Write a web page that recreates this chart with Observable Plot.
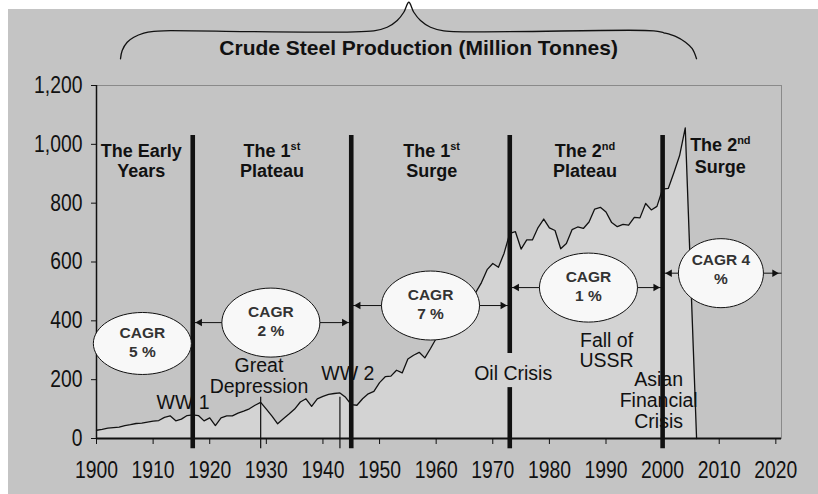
<!DOCTYPE html>
<html><head><meta charset="utf-8">
<script src="https://cdn.jsdelivr.net/npm/d3@7"></script>
<script src="https://cdn.jsdelivr.net/npm/@observablehq/plot@0.6"></script>
<style>
html,body{margin:0;padding:0;background:#fff;}
#wrap{position:relative;width:818px;height:494px;overflow:hidden;}
#bg{position:absolute;left:8px;top:9px;right:0;bottom:0;background:#c4c4c4;}
#chart{position:absolute;left:0;top:0;}
</style></head><body>
<div id="wrap"><div id="bg"></div><div id="chart"></div></div>
<script>
// ---- data ----
const years = [1900,1901,1902,1903,1904,1905,1906,1907,1908,1909,1910,1911,1912,1913,1914,1915,1916,1917,1918,1919,
1920,1921,1922,1923,1924,1925,1926,1927,1928,1929,1930,1931,1932,1933,1934,1935,1936,1937,1938,1939,
1940,1941,1942,1943,1944,1945,1946,1947,1948,1949,1950,1951,1952,1953,1954,1955,1956,1957,1958,1959,
1960,1961,1962,1963,1964,1965,1966,1967,1968,1969,1970,1971,1972,1973,1974,1975,1976,1977,1978,1979,
1980,1981,1982,1983,1984,1985,1986,1987,1988,1989,1990,1991,1992,1993,1994,1995,1996,1997,1998,1999,
2000,2001,2002,2003,2004,2006];
const production = [28,31,35,37,39,44,47,51,52,56,59,61,72,77,60,66,78,80,78,60,
70,44,70,77,77,86,93,101,113,123,100,76,50,67,83,100,124,135,109,135,
143,150,153,155,140,115,113,135,152,160,190,210,212,232,223,270,283,293,274,306,
340,351,360,387,434,456,475,497,530,574,595,582,630,697,703,644,675,675,717,746,
716,707,645,663,710,719,714,736,780,786,770,734,720,728,725,752,750,799,777,789,
848,850,904,962,1056,0];

const xTicks = [1900,1910,1920,1930,1940,1950,1960,1970,1980,1990,2000,2010,2020];
const yTicks = [0,200,400,600,800,1000,1200];

const titleText = ["Crude Steel Production (Million Tonnes)"];

const periodBounds = [1917, 1945, 1973, 2000];
const regionLine1 = ["The Early", "The 1st", "The 1st", "The 2nd", "The 2nd"];
const regionLine2 = ["Years", "Plateau", "Surge", "Plateau", "Surge"];
const regionX = [1907.9, 1931, 1959.2, 1986.3, 2010.2];
const regionY1 = [978, 978, 978, 978, 998];
const regionY2 = [909, 909, 909, 909, 923];

const cagrLabels = ["CAGR\n5 %", "CAGR\n2 %", "CAGR\n7 %", "CAGR\n1 %", "CAGR 4\n%"];
const cagrX = [1908.1, 1930.8, 1959.0, 1986.9, 2010.3];
const cagrY = [323, 394, 452, 513, 562];
const arrowFrom = [null, 1917, 1945, 1973, 2000];
const arrowTo = [null, 1945, 1973, 2000, 2021];

const eventLabels = ["WW 1", "Great\nDepression", "WW 2", "Oil Crisis", "Fall of\nUSSR", "Asian\nFinancial\nCrisis"];
const eventX = [1915.3, 1928.7, 1944.4, 1973.6, 1990.1, 1999.3];
const eventY = [124, 212, 223, 222, 300, 129];
const eventYears = [1929, 1943];

const braceX = [1904.24,1904.54,1905.42,1906.59,1908.36,1910.12,1911.89,1948.98,1951.35,1953.12,1954.28,1955.17,1956.05,1957.23,1959.0,1961.35,1998.44,2000.21,2002.28,2004.04,2005.23,2005.99];
const braceY = [1291,1319,1347,1364,1378,1384,1386,1386,1398,1421,1449,1483,1449,1421,1398,1386,1386,1379,1367,1347,1325,1291];

// ---- derived tables ----
const steel = years.map((y, i) => ({year: y, value: production[i]}));
const brace = braceX.map((x, i) => ({x, y: braceY[i]}));
const regions = regionX.map((x, i) => ({x, l1: regionLine1[i], l2: regionLine2[i], y1: regionY1[i], y2: regionY2[i]}));
const cagr = cagrLabels.map((label, i) => ({label, x: cagrX[i], y: cagrY[i], from: arrowFrom[i], to: arrowTo[i]}));
const arrows = cagr.filter(d => d.from != null);
const events = eventLabels.map((t, i) => ({t, x: eventX[i], y: eventY[i]}));

// thick boundary lines (Oil Crisis line broken around its label)
const boundSegs = [];
periodBounds.forEach(b => {
  if (b === 1973) { boundSegs.push({x: b, y1: 1030, y2: 289}); boundSegs.push({x: b, y1: 173, y2: -35}); }
  else boundSegs.push({x: b, y1: 1030, y2: -35});
});

function ellipse(rx, ry) {
  const k = 0.5523;
  return {draw(c) {
    c.moveTo(rx, 0);
    c.bezierCurveTo(rx, ry * k, rx * k, ry, 0, ry);
    c.bezierCurveTo(-rx * k, ry, -rx, ry * k, -rx, 0);
    c.bezierCurveTo(-rx, -ry * k, -rx * k, -ry, 0, -ry);
    c.bezierCurveTo(rx * k, -ry, rx, -ry * k, rx, 0);
    c.closePath();
  }};
}

const ink = "#111";
const yFmt = d3.format(",");
const xFmt = d => String(d);

const chart = Plot.plot({
  width: 818, height: 494,
  marginLeft: 96, marginRight: 37, marginTop: 85, marginBottom: 56,
  style: {background: "transparent", overflow: "visible", fontFamily: "'Liberation Sans', Arial, sans-serif", color: ink},
  x: {domain: [1900, 2021]},
  y: {domain: [0, 1200]},
  marks: [
    Plot.frame({stroke: "#8a8a8a", strokeWidth: 1}),
    Plot.areaY(steel, {x: "year", y: "value", fill: "#d3d3d3"}),
    Plot.line(steel, {x: "year", y: "value", stroke: ink, strokeWidth: 1.3}),
    Plot.ruleY([0], {stroke: ink, strokeWidth: 2}),
    Plot.ruleX([1900], {stroke: ink, strokeWidth: 1.5}),
    Plot.axisY({ticks: yTicks, tickFormat: yFmt, tickSize: 5, tickPadding: 9, fontSize: 23, stroke: ink}),
    Plot.axisX({ticks: xTicks, tickFormat: xFmt, tickSize: 6, tickPadding: 17, fontSize: 23, stroke: ink}),
    // event annotations
    Plot.text(events, {x: "x", y: "y", text: "t", fontSize: 19.5, lineHeight: 1.07, fill: ink}),
    Plot.ruleX(eventYears, {y1: 140, y2: -35, stroke: ink, strokeWidth: 1.2}),
    // period boundaries
    Plot.ruleX(boundSegs, {x: "x", y1: "y1", y2: "y2", stroke: ink, strokeWidth: 4.6}),
    // CAGR arrows
    Plot.link(arrows, {x1: "from", x2: "to", y1: "y", y2: "y", stroke: ink, strokeWidth: 1}),
    Plot.dot(arrows, {x: "from", y: "y", symbol: "triangle", r: 2.8, rotate: -90, dx: 7, fill: ink, stroke: "none"}),
    Plot.dot(arrows, {x: "to", y: "y", symbol: "triangle", r: 2.8, rotate: 90, dx: -7, fill: ink, stroke: "none"}),
    // CAGR ellipses
    Plot.dot(cagr.slice(0, 1), {x: "x", y: "y", symbol: ellipse(49, 31), fill: "#f8f8f8", stroke: ink, strokeWidth: 1}),
    Plot.dot(cagr.slice(1, 4), {x: "x", y: "y", symbol: ellipse(49, 34.5), fill: "#f8f8f8", stroke: ink, strokeWidth: 1}),
    Plot.dot(cagr.slice(4), {x: "x", y: "y", symbol: ellipse(42.5, 34.5), fill: "#f8f8f8", stroke: ink, strokeWidth: 1}),
    Plot.text(cagr.slice(0, 4), {x: "x", y: "y", text: "label", dy: -2, fontSize: 15.5, fontWeight: "bold", lineHeight: 1.23, fill: "#333"}),
    Plot.text(cagr.slice(4), {x: "x", y: "y", text: "label", dy: -5, fontSize: 15.5, fontWeight: "bold", lineHeight: 1.23, fill: "#333"}),
    // region labels
    Plot.text(regions, {x: "x", y: "y1", text: "l1", fontSize: 18, fontWeight: "bold", fill: ink}),
    Plot.text(regions, {x: "x", y: "y2", text: "l2", fontSize: 18, fontWeight: "bold", fill: ink}),
    // brace and title
    Plot.line(brace, {x: "x", y: "y", curve: "catmull-rom", stroke: ink, strokeWidth: 1.3}),
    Plot.text(titleText, {x: 1956.9, y: 1327, text: d => d, fontSize: 21, fontWeight: "bold", fill: ink})
  ]
});
document.getElementById("chart").appendChild(chart);

const NS = "http://www.w3.org/2000/svg";
// superscript ordinals ("1st", "2nd")
chart.querySelectorAll("text").forEach(t => {
  if (t.children.length) return;
  const m = t.textContent.match(/^(The \d)(st|nd)$/);
  if (!m) return;
  t.textContent = m[1];
  const s = document.createElementNS(NS, "tspan");
  s.setAttribute("dy", "-7");
  s.setAttribute("font-size", "11");
  s.textContent = m[2];
  t.appendChild(s);
});
// narrow (condensed) tick labels, as in the original
const tickStrings = new Set([...xTicks.map(xFmt), ...yTicks.map(yFmt)]);
chart.querySelectorAll("text").forEach(t => {
  if (t.children.length || !tickStrings.has(t.textContent)) return;
  const w = t.getComputedTextLength();
  if (!(w > 0)) return;
  t.setAttribute("textLength", (w * 0.84).toFixed(1));
  t.setAttribute("lengthAdjust", "spacingAndGlyphs");
});
</script>
</body></html>
